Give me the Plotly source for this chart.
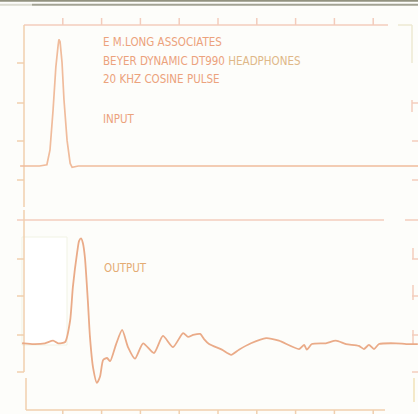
import plotly.graph_objects as go

W, H = 418, 414

# ---- data: x in graticule divisions (0..10), amplitude normalised to input peak = 1
input_x = [-0.10, 0.40, 0.59, 0.67, 0.75, 0.82, 0.88, 0.90, 0.93, 0.98, 1.03, 1.11, 1.19, 1.24, 1.40, 10.2]
input_y = [0.0, 0.0, 0.01, 0.125, 0.44, 0.77, 0.945, 0.99, 0.97, 0.81, 0.52, 0.20, 0.02, -0.01, 0.0, 0.0]

output_x = [-0.05, 0.00, 0.28, 0.54, 0.75, 0.88, 1.06, 1.19, 1.26, 1.37, 1.42, 1.47, 1.52, 1.57, 1.65,
            1.70, 1.78, 1.88, 1.96, 2.04, 2.14, 2.22, 2.37, 2.53, 2.68, 2.86, 3.07, 3.35, 3.58,
            3.84, 4.10, 4.23, 4.36, 4.54, 4.64, 4.77, 5.10, 5.34, 5.54, 5.85, 6.24, 6.57, 7.09,
            7.22, 7.29, 7.42, 7.78, 8.04, 8.30, 8.63, 8.76, 8.89, 9.02, 9.15, 9.59, 9.85, 10.15]
output_y = [-0.01, -0.01, -0.016, -0.01, 0.01, -0.01, 0.0, 0.17, 0.43, 0.70, 0.79, 0.81, 0.77, 0.66, 0.30,
            0.04, -0.20, -0.32, -0.27, -0.14, -0.125, -0.15, -0.02, 0.094, -0.04, -0.13, -0.01, -0.086, 0.047,
            -0.04, 0.07, 0.04, 0.055, 0.063, 0.023, -0.016, -0.06, -0.10, -0.06, -0.01, 0.03, 0.01, -0.055,
            -0.023, -0.06, -0.016, -0.01, 0.01, -0.016, -0.03, -0.055, -0.023, -0.055, -0.016, -0.01, -0.016, -0.016]

header_lines = ["E M.LONG ASSOCIATES", "BEYER DYNAMIC DT990 HEADPHONES", "20 KHZ COSINE PULSE"]
input_label = "INPUT"
output_label = "OUTPUT"

BG = "#fdfdfa"

# ---- layout helpers (pixel -> paper)
def px(x):
    return x / W

def py(y):
    return 1 - y / H

FRAME = "#f3ccbc"
FRAME2 = "#f0cfae"
shapes = []

def seg(x0, y0, x1, y1, color=FRAME, width=1.5):
    shapes.append(dict(type="line", xref="paper", yref="paper",
                       x0=px(x0), y0=py(y0), x1=px(x1), y1=py(y1),
                       line=dict(color=color, width=width), layer="below"))

def vtick_div(k, y0, y1, color=FRAME):
    shapes.append(dict(type="line", xref="x", yref="paper", x0=k, x1=k,
                       y0=py(y0), y1=py(y1), line=dict(color=color, width=1.5), layer="below"))

# scanned top strip
shapes.append(dict(type="rect", xref="paper", yref="paper", x0=0, x1=1, y0=py(1.8), y1=1,
                   fillcolor="#92927f", line=dict(width=0), layer="below"))
seg(32, 4.8, 418, 4.8, "#a3a394", 2)
seg(0, 4.8, 32, 4.8, "#dcdcd2", 2)

# faint box in output panel
shapes.append(dict(type="rect", xref="paper", yref="paper", x0=px(22), x1=px(67), y0=py(345), y1=py(237),
                   fillcolor="#ffffff", line=dict(color="#f1f3e4", width=1), layer="below"))

# top panel frame
seg(24, 25, 388, 25)
seg(398, 25, 412, 25, "#ece9d2")
seg(412, 25, 412, 63, "#ece9d2")
for k in range(1, 10):
    vtick_div(k, 18, 25)
seg(24, 25, 24, 207, FRAME2)
for y in [63, 103, 141, 180]:
    seg(17, y, 24, y, FRAME2)
for y in [103, 141, 180]:
    seg(412, y, 418, y)
seg(412, 100, 412, 112)

# bottom panel frame
seg(17, 220, 384, 220)
seg(405, 220, 418, 220)
seg(24, 210, 24, 372, FRAME2)
for y in [259, 296, 335, 372]:
    seg(17, y, 24, y, FRAME2)
seg(26, 378, 26, 410, FRAME2)
seg(26, 410, 385, 410, FRAME2)
for k in range(1, 10):
    vtick_div(k, 410, 414, FRAME2)
for y in [259, 296, 335, 372]:
    seg(412, y, 418, y)
seg(413, 248, 413, 259)
seg(413, 285, 413, 300)
seg(413, 330, 413, 345)
seg(414, 378, 414, 402, "#f1e2b8")

fig = go.Figure()
fig.add_trace(go.Scatter(x=input_x, y=input_y, mode="lines", xaxis="x", yaxis="y",
                         line=dict(color="#f0bc9c", width=1.7), hoverinfo="skip"))
fig.add_trace(go.Scatter(x=output_x, y=output_y, mode="lines", xaxis="x", yaxis="y2",
                         line=dict(color="#eaab88", width=1.8, shape="spline", smoothing=0.6),
                         hoverinfo="skip"))

FONT = "Liberation Sans Narrow, DejaVu Sans Condensed, Arial Narrow, sans-serif"
FS = 11.5
TXT = "#eca27c"
annotations = []
for i, (t, yy) in enumerate(zip(header_lines, [42, 61, 79])):
    if i == 1:
        t = t.replace("HEADPHONES", "<span style='color:#dfb888'>HEADPHONES</span>")
    annotations.append(dict(text=t, xref="paper", yref="paper", x=px(101), y=py(yy),
                            xanchor="left", yanchor="middle", showarrow=False,
                            font=dict(family=FONT, size=FS, color=TXT)))
annotations.append(dict(text=input_label, xref="paper", yref="paper", x=px(101), y=py(119),
                        xanchor="left", yanchor="middle", showarrow=False,
                        font=dict(family=FONT, size=FS, color=TXT)))
annotations.append(dict(text=output_label, xref="paper", yref="paper", x=px(102), y=py(268),
                        xanchor="left", yanchor="middle", showarrow=False,
                        font=dict(family=FONT, size=FS, color="#e4ac72")))

split = (H - 220) / H
fig.update_layout(
    width=W, height=H, margin=dict(l=0, r=0, t=0, b=0),
    paper_bgcolor=BG, plot_bgcolor="rgba(0,0,0,0)",
    showlegend=False,
    xaxis=dict(range=[-24 / 38.8, 394 / 38.8], visible=False, fixedrange=True),
    yaxis=dict(domain=[split, 1], range=[-54 / 128, -54 / 128 + 220 / 128], visible=False),
    yaxis2=dict(domain=[0, split], range=[-72 / 128, -72 / 128 + 194 / 128], visible=False),
    shapes=shapes, annotations=annotations,
)
fig.write_html(
    "out.html",
    config={"displayModeBar": False},
    post_script="document.body.style.margin='0';document.body.style.background='" + BG + "';",
)
